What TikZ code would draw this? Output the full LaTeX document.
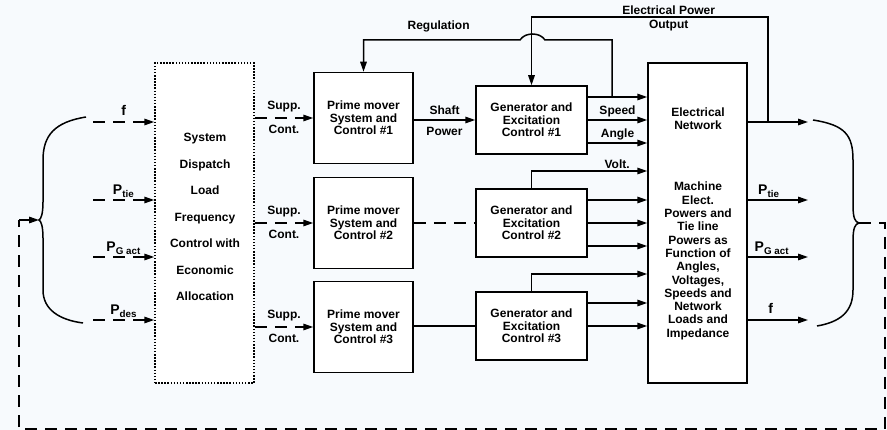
\documentclass[tikz,border=0pt]{standalone}
\usepackage{fontspec}
\setmainfont{Liberation Sans}
\usetikzlibrary{arrows.meta,positioning,calc}
\definecolor{bgpaper}{RGB}{247,250,253}

\begin{document}
\begin{tikzpicture}[
    x=1pt, y=-1pt,
    font=\bfseries\fontsize{12}{12.7}\selectfont,
    line width=1.5pt,
    blk/.style={rectangle, draw, line width=1.5pt, fill=white, align=center, inner sep=0pt},
    pmbox/.style={blk, minimum width=99pt, minimum height=91pt},
    genbox/.style={blk, minimum width=111pt, minimum height=68pt},
    tall/.style={blk, minimum width=99pt, minimum height=320pt},
    arr/.style={-{Triangle[length=10pt,width=6.5pt]}},
    dsh/.style={dash pattern=on 12pt off 8pt},
    lbl/.style={inner sep=2pt, font=\bfseries\fontsize{12}{12.7}\selectfont},
    sig/.style={inner sep=2pt, font=\bfseries\fontsize{14}{14}\selectfont},
  ]
    \fill[bgpaper] (0,0) rectangle (887,430);
    \useasboundingbox (0,0) rectangle (887,430);

    %% ── Dispatch block ───────────────────────────────────────
    \node[tall, dash pattern=on 1.5pt off 1.6pt] (sdl) at (204.5,223) {};
    \node[align=center, font=\bfseries\fontsize{12}{26.5}\selectfont] (sdltxt) at (205,217)
      {System\\Dispatch\\Load\\Frequency\\Control with\\Economic\\Allocation};

    %% ── Prime movers ─────────────────────────────────────────
    \node[pmbox] (pm1) at (363.5,118) {Prime mover\\System and\\Control \#1};
    \node[pmbox] (pm2) at (363.5,223) {Prime mover\\System and\\Control \#2};
    \node[pmbox] (pm3) at (363.5,327) {Prime mover\\System and\\Control \#3};

    %% ── Generators ───────────────────────────────────────────
    \node[genbox] (gen1) at (531.5,120) {Generator and\\Excitation\\Control \#1};
    \node[genbox] (gen2) at (531.5,223) {Generator and\\Excitation\\Control \#2};
    \node[genbox] (gen3) at (531.5,326) {Generator and\\Excitation\\Control \#3};

    %% ── Network ──────────────────────────────────────────────
    \node[tall] (net) at (697.5,223) {};
    \node[align=center] (nettop) at (698,118.5) {Electrical\\Network};
    \node[align=center, font=\bfseries\fontsize{12}{13.3}\selectfont] (netbot) at (698,261)
      {Machine\\Elect.\\Powers and\\Tie line\\Powers as\\Function of\\Angles,\\Voltages,\\Speeds and\\Network\\Loads and\\Impedance};

    %% ── Helper points ────────────────────────────────────────
    \coordinate (inf)    at (93,122);
    \coordinate (inptie) at (93,200);
    \coordinate (inpg)   at (93,257);
    \coordinate (inpdes) at (93,320);
    \coordinate (eout)   at (808,122);
    \coordinate (optie)  at (808,200);
    \coordinate (opg)    at (808,257);
    \coordinate (opf)    at (808,320);
    \coordinate (etap)   at (768,122);
    \coordinate (ey)     at (0,17);
    \coordinate (spd)    at (612,97);
    \coordinate (vy)     at (0,171);
    \coordinate (v3)     at (0,274);
    \coordinate (rpinch) at (859,223);
    \coordinate (lpinch) at (39,220);
    \coordinate (fbr)    at (885,429);
    \coordinate (fbl)    at (19,429);
    \coordinate (g1a) at ([yshift=23pt]gen1.east);
    \coordinate (g1c) at ([yshift=-23pt]gen1.east);
    \coordinate (g2a) at ([yshift=23pt]gen2.east);
    \coordinate (g2c) at ([yshift=-23pt]gen2.east);
    \coordinate (g3a) at ([yshift=23pt]gen3.east);

    %% ── Inputs to dispatch ───────────────────────────────────
    \draw[arr,dsh] (inf) -- node[sig,above=4pt]{f} (inf -| sdl.west);
    \draw[arr,dsh] (inptie) -- node[sig,above]{P\textsubscript{tie}} (inptie -| sdl.west);
    \draw[arr,dsh] (inpg) -- node[sig,above]{P\textsubscript{G act}} (inpg -| sdl.west);
    \draw[arr,dsh] (inpdes) -- node[sig,above]{P\textsubscript{des}} (inpdes -| sdl.west);

    %% ── Supplementary control ────────────────────────────────
    \draw[arr,dsh] (sdl.east |- pm1.west) -- node[lbl,above=3pt]{Supp.} node[lbl,below=4pt]{Cont.} (pm1.west);
    \draw[arr,dsh] (sdl.east |- pm2.west) -- node[lbl,above=3pt]{Supp.} node[lbl,below=4pt]{Cont.} (pm2.west);
    \draw[arr,dsh] (sdl.east |- pm3.west) -- node[lbl,above=3pt]{Supp.} node[lbl,below=4pt]{Cont.} (pm3.west);

    %% ── Prime mover to generator ─────────────────────────────
    \draw[arr] (pm1.east |- gen1.west) -- node[lbl,above=3pt]{Shaft} node[lbl,below=4pt]{Power} (gen1.west);
    \draw[dsh] (pm2.east) -- (gen2.west);
    \draw (pm3.east |- gen3.west) -- (gen3.west);

    %% ── Generators to network ────────────────────────────────
    \draw[arr] (g1a) -- (g1a -| net.west);
    \draw[arr] (gen1.east) -- node[lbl,above]{Speed} (gen1.east -| net.west);
    \draw[arr] (g1c) -- node[lbl,above]{Angle} (g1c -| net.west);
    \draw[arr] (gen2.north) |- node[lbl,above,pos=0.87]{Volt.} (net.west |- vy);
    \draw[arr] (g2a) -- (g2a -| net.west);
    \draw[arr] (gen2.east) -- (gen2.east -| net.west);
    \draw[arr] (g2c) -- (g2c -| net.west);
    \draw[arr] (gen3.north) |- (net.west |- v3);
    \draw[arr] (g3a) -- (g3a -| net.west);
    \draw[arr] (gen3.east) -- (gen3.east -| net.west);

    %% ── Feedback loops ───────────────────────────────────────
    \draw[arr] (spd) -- (612,40) -- (545,40) .. controls (540,32) and (525,32) .. (520,40)
      -| node[lbl,above=5pt,pos=0.26]{Regulation} (pm1.north);
    \draw[arr] (etap) |- node[lbl,above,pos=0.71]{Electrical Power}
      node[lbl,below,pos=0.71]{Output} (gen1.north |- ey) -- (gen1.north);

    %% ── Network outputs ──────────────────────────────────────
    \draw[arr] (net.east |- eout) -- (eout);
    \draw[arr] (net.east |- optie) -- node[sig,above,pos=0.35]{P\textsubscript{tie}} (optie);
    \draw[arr] (net.east |- opg) -- node[sig,above,pos=0.4]{P\textsubscript{G act}} (opg);
    \draw[arr] (net.east |- opf) -- node[sig,above=4pt,pos=0.38]{f} (opf);

    %% ── Braces and return path ───────────────────────────────
    \draw (813,120) .. controls (845,125) and (853,135) .. (853,160) -- (853,205)
      .. controls (853,218) and (855,222) .. (rpinch)
      .. controls (855,224) and (853,228) .. (853,241) -- (853,290)
      .. controls (853,312) and (840,322) .. (817,326);
    \draw (86,117) .. controls (55,122) and (43,135) .. (43,160) -- (43,202)
      .. controls (43,214) and (41,219) .. (lpinch)
      .. controls (41,221) and (43,226) .. (43,238) -- (43,290)
      .. controls (43,310) and (60,320) .. (83,323);
    \draw[dsh] (rpinch) -| (fbr) -- (fbl) -- (fbl |- lpinch);
    \draw[arr] (fbl |- lpinch) -- (lpinch);

  \end{tikzpicture}
\end{document}
